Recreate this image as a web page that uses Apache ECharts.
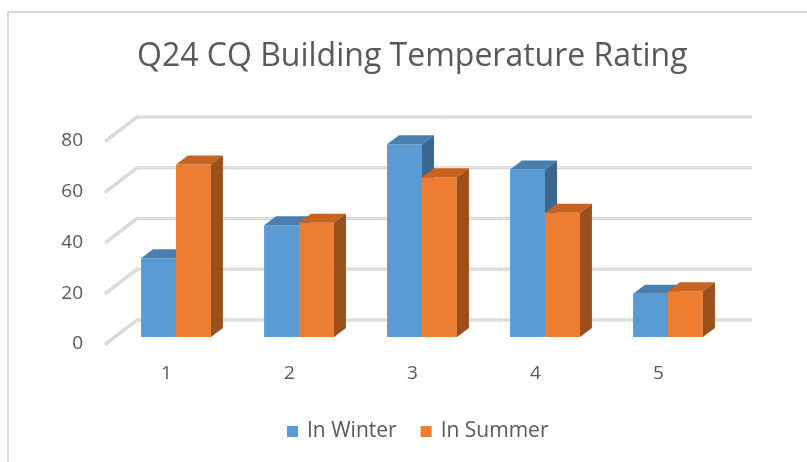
<!DOCTYPE html>
<html>
<head>
<meta charset="utf-8">
<script src="https://cdn.jsdelivr.net/npm/echarts@6/dist/echarts.min.js"></script>
<style>
html,body{margin:0;padding:0;background:#fff;}
#wrap{position:absolute;left:0;top:0;width:807px;height:462px;}
#frame{position:absolute;left:7px;top:11px;width:820px;height:470px;border:1px solid #d9d9d9;border-width:2px 0 0 2px;box-sizing:border-box;}
#chart{position:absolute;left:0;top:0;width:807px;height:462px;}
</style>
</head>
<body>
<div id="wrap"><div id="frame"></div><div id="chart"></div></div>
<script>
var titleText = 'Q24 CQ Building Temperature Rating';
var categories = ['1', '2', '3', '4', '5'];
var seriesNames = ['In Winter', 'In Summer'];
var winter = [31, 44, 76, 66, 17];
var summer = [68, 45, 63, 49, 18];
var yTicks = [0, 20, 40, 60, 80];

var FONT = '"Open Sans", "Noto Sans", sans-serif';
var TXT = '#595959';
// oblique projection of back wall
var WALL_DX = 32, WALL_DY = 24;
// bar placement within depth
var FRONT_DX = 9.5, FRONT_DY = 7;
var BAR_DX = 12, BAR_DY = 9;

var faces = [
  {front: '#5b9bd5', top: '#4a7eae', side: '#3c668f'},
  {front: '#ed7d31', top: '#c8631f', side: '#9b501c'}
];

function gridRender(params, api) {
  var rect = params.coordSys;
  var y = api.coord([0, api.value(1)])[1];
  var pts = [[rect.x, y + 0.5], [rect.x + WALL_DX, y - WALL_DY], [rect.x + rect.width + WALL_DX, y - WALL_DY]];
  return {
    type: 'group',
    children: [
      {type: 'polyline', shape: {points: pts}, style: {stroke: '#cfcfcf', lineWidth: 3.2, fill: null}},
      {type: 'polyline', shape: {points: pts}, style: {stroke: '#ececec', lineWidth: 1, fill: null}}
    ]
  };
}

function barRenderer(idx) {
  return function (params, api) {
    var ci = api.value(0);
    var v = api.value(1);
    var c = api.coord([ci, v]);
    var base = api.coord([ci, 0]);
    var band = api.size([1, 0])[0];
    var w = band * 0.284;
    var cx = c[0] + FRONT_DX;
    var x0 = idx === 0 ? cx - w : cx;
    var x1 = x0 + w;
    var yT = c[1] - FRONT_DY;
    var yB = base[1] - FRONT_DY;
    var f = faces[idx];
    return {
      type: 'group',
      children: [
        {type: 'rect', shape: {x: x0, y: yT, width: w, height: yB - yT}, style: {fill: f.front}},
        {type: 'polygon', shape: {points: [[x0, yT], [x1, yT], [x1 + BAR_DX, yT - BAR_DY], [x0 + BAR_DX, yT - BAR_DY]]}, style: {fill: f.top}},
        {type: 'polygon', shape: {points: [[x1, yT], [x1 + BAR_DX, yT - BAR_DY], [x1 + BAR_DX, yB - BAR_DY], [x1, yB]]}, style: {fill: f.side}}
      ]
    };
  };
}

var chart = echarts.init(document.getElementById('chart'));
chart.setOption({
  animation: false,
  backgroundColor: 'transparent',
  title: {
    text: titleText,
    left: 132,
    top: 36,
    textStyle: {fontFamily: FONT, fontSize: 32, fontWeight: 'normal', color: TXT}
  },
  legend: {
    bottom: 15,
    left: 282,
    itemWidth: 11,
    itemHeight: 11,
    itemGap: 24,
    icon: 'rect',
    data: [
      {name: seriesNames[0], itemStyle: {color: faces[0].front}},
      {name: seriesNames[1], itemStyle: {color: faces[1].front}}
    ],
    textStyle: {fontFamily: FONT, fontSize: 21, color: TXT, padding: [0, 0, 0, 4]}
  },
  grid: {left: 105, right: 87, top: 141, bottom: 118},
  xAxis: {
    type: 'category',
    data: categories,
    axisLine: {show: false},
    axisTick: {show: false},
    axisLabel: {fontFamily: FONT, fontSize: 19, color: TXT, margin: 20}
  },
  yAxis: {
    type: 'value',
    min: 0, max: 80, interval: 20,
    axisLine: {show: false},
    axisTick: {show: false},
    splitLine: {show: false},
    axisLabel: {fontFamily: FONT, fontSize: 19, color: TXT, margin: 22}
  },
  series: [
    {type: 'custom', name: '_grid', renderItem: gridRender, data: yTicks.map(function (v) { return [0, v]; }), silent: true, z: 1},
    {type: 'custom', name: seriesNames[0], renderItem: barRenderer(0), data: winter.map(function (v, i) { return [i, v]; }), itemStyle: {color: faces[0].front}, z: 2},
    {type: 'custom', name: seriesNames[1], renderItem: barRenderer(1), data: summer.map(function (v, i) { return [i, v]; }), itemStyle: {color: faces[1].front}, z: 3}
  ]
});
</script>
</body>
</html>
